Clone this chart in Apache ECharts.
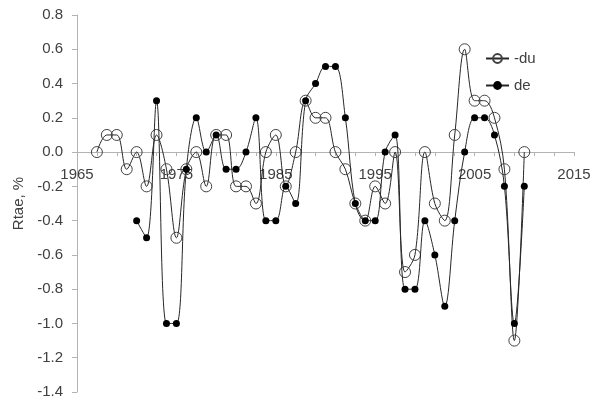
<!DOCTYPE html>
<html>
<head>
<meta charset="utf-8">
<script src="https://cdn.jsdelivr.net/npm/echarts@6/dist/echarts.min.js"></script>
<style>html,body{margin:0;padding:0;background:#fff}#c{width:594px;height:401px}</style>
</head>
<body>
<div id="c"></div>
<script>
var duYears = [1967,1968,1969,1970,1971,1972,1973,1974,1975,1976,1977,1978,1979,1980,1981,1982,1983,1984,1985,1986,1987,1988,1989,1990,1991,1992,1993,1994,1995,1996,1997,1998,1999,2000,2001,2002,2003,2004,2005,2006,2007,2008,2009,2010];
var duValues = [0.0,0.1,0.1,-0.1,0.0,-0.2,0.1,-0.1,-0.5,-0.1,0.0,-0.2,0.1,0.1,-0.2,-0.2,-0.3,0.0,0.1,-0.2,0.0,0.3,0.2,0.2,0.0,-0.1,-0.3,-0.4,-0.2,-0.3,0.0,-0.7,-0.6,0.0,-0.3,-0.4,0.1,0.6,0.3,0.3,0.2,-0.1,-1.1,0.0];
var deYears = [1971,1972,1973,1974,1975,1976,1977,1978,1979,1980,1981,1982,1983,1984,1985,1986,1987,1988,1989,1990,1991,1992,1993,1994,1995,1996,1997,1998,1999,2000,2001,2002,2003,2004,2005,2006,2007,2008,2009,2010];
var deValues = [-0.4,-0.5,0.3,-1.0,-1.0,-0.1,0.2,0.0,0.1,-0.1,-0.1,0.0,0.2,-0.4,-0.4,-0.2,-0.3,0.3,0.4,0.5,0.5,0.2,-0.3,-0.4,-0.4,0.0,0.1,-0.8,-0.8,-0.4,-0.6,-0.9,-0.4,0.0,0.2,0.2,0.1,-0.2,-1.0,-0.2];

function pairs(xs, ys){ return xs.map(function(x,i){ return [x, ys[i]]; }); }

var yMin = -1.4, yMax = 0.8;
var gridTop = 15, gridBottom = 9, H = 401;
var plotH = H - gridTop - gridBottom;
var zeroFromBottom = plotH * (0 - yMin) / (yMax - yMin);

var font = 'Liberation Sans';
var txt = '#404040';
var axisGray = '#b3b3b3';
var chart = echarts.init(document.getElementById('c'));
chart.setOption({
  animation: false,
  textStyle: {fontFamily: font},
  grid: {left: 77, right: 20, top: gridTop, bottom: gridBottom, containLabel: false, outerBoundsMode: 'none'},
  legend: {
    orient: 'vertical', left: 480, top: 46, itemGap: 12,
    itemWidth: 23, itemHeight: 11,
    textStyle: {fontFamily: font, fontSize: 15, color: txt},
    data: ['-du', 'de']
  },
  xAxis: {
    type: 'value', min: 1965, max: 2015, interval: 10,
    position: 'bottom', offset: -zeroFromBottom,
    axisLine: {onZero: false, lineStyle: {color: axisGray, width: 1}},
    axisTick: {show: true, length: 4, lineStyle: {color: axisGray}},
    minorTick: {show: true, splitNumber: 5, length: 4, lineStyle: {color: axisGray}},
    splitLine: {show: false},
    minorSplitLine: {show: false},
    axisLabel: {fontFamily: font, fontSize: 15, color: txt, margin: 15, formatter: function(v){return String(v);}}
  },
  yAxis: {
    type: 'value', min: yMin, max: yMax, interval: 0.2,
    name: 'Rtae, %', nameLocation: 'middle', nameGap: 50, nameRotate: 90,
    nameTextStyle: {fontFamily: font, fontSize: 15, color: txt},
    axisLine: {show: true, lineStyle: {color: axisGray, width: 1}},
    axisTick: {show: true, length: 5, lineStyle: {color: axisGray}},
    splitLine: {show: false},
    axisLabel: {fontFamily: font, fontSize: 15, color: txt, margin: 14, formatter: function(v){return v.toFixed(1);}}
  },
  series: [
    {
      name: '-du', type: 'line', data: pairs(duYears, duValues),
      smooth: 0.35, symbol: 'circle', symbolSize: 11,
      lineStyle: {color: '#262626', width: 1},
      itemStyle: {color: 'rgba(255,255,255,0)', borderColor: '#404040', borderWidth: 1},
      z: 2
    },
    {
      name: 'de', type: 'line', data: pairs(deYears, deValues),
      smooth: 0.35, symbol: 'circle', symbolSize: 7,
      lineStyle: {color: '#262626', width: 1},
      itemStyle: {color: '#000', borderColor: '#000', borderWidth: 0},
      z: 3
    }
  ]
});
</script>
</body>
</html>
